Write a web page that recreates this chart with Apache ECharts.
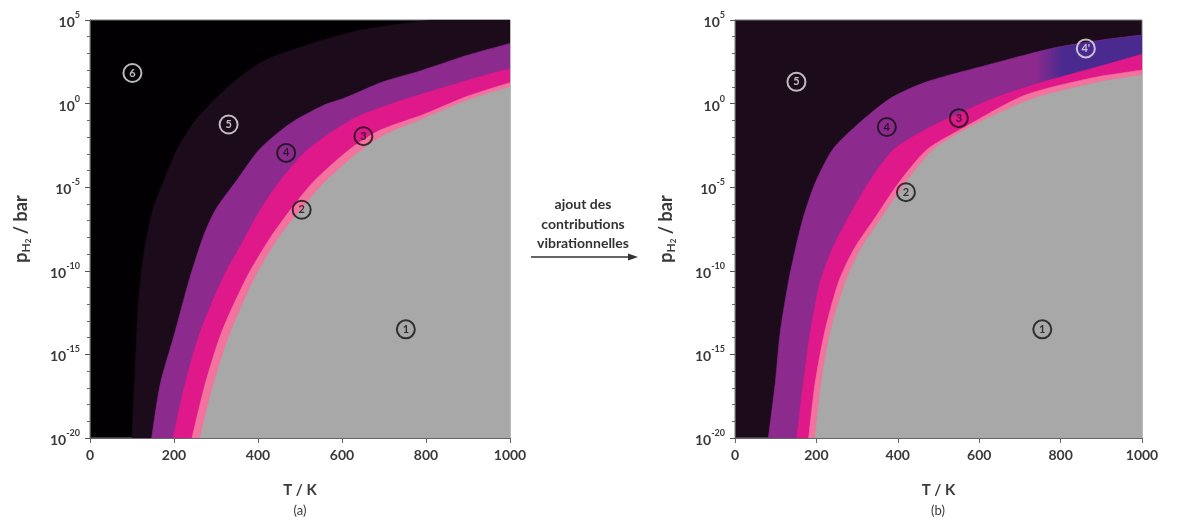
<!DOCTYPE html>
<html><head><meta charset="utf-8">
<script src="https://cdn.jsdelivr.net/npm/echarts@6/dist/echarts.min.js"></script>
<style>html,body{margin:0;padding:0;background:#fff}#c{width:1178px;height:521px}</style>
</head><body><div id="c"></div>
<script>
// ---------- data (T in K, value = log10(pH2 / bar)) ----------
const xTicks = [0, 200, 400, 600, 800, 1000];
const yExponents = [5, 0, -5, -10, -15, -20];

// (a) phase boundaries
const a_b65 = [[100,-20],[107,-16],[115,-12],[125,-9.5],[135,-8],[150,-6.3],[171,-4.9],[206,-2.8],[254,-0.9],[333,1.1],[413,2.55],[516,3.5],[635,4.35],[750,4.8],[820,5],[1000,5]];
const a_b54 = [[147,-20],[167,-16.8],[202,-13.7],[238,-10.4],[272,-7.8],[300,-6.3],[349,-4.6],[405,-2.7],[476,-1.2],[556,-0.1],[603,0.3],[698,1.3],[786,1.95],[900,2.9],[1000,3.6]];
const a_b43 = [[198,-20],[226,-16.8],[262,-13.7],[317,-10.4],[365,-8.2],[400,-6.6],[444,-4.9],[516,-2.8],[627,-0.9],[714,-0.05],[794,0.6],[900,1.4],[1000,2.1]];
const a_b32 = [[243,-20],[274,-16.8],[313,-13.7],[373,-10.4],[430,-8.0],[485,-6.1],[535,-4.6],[615,-2.8],[690,-1.6],[794,-0.65],[900,0.45],[1000,1.25]];
const a_b21 = [[262,-20],[294,-16.8],[333,-13.8],[393,-10.4],[450,-8.0],[504,-6.3],[555,-4.8],[635,-3.0],[700,-1.9],[794,-0.9],[900,0.2],[1000,1.0]];
const a_labels = [['6',101,1.83],['5',330,-1.25],['4',467,-2.95],['3',651,-1.95],['2',504,-6.35],['1',752,-13.5]];

// (b) phase boundaries
const b_b54 = [[82,-20],[99,-16.7],[111,-13.7],[131,-10.7],[148,-8.75],[168,-6.8],[197,-4.75],[240,-2.75],[299,-1.3],[381,0.3],[471,1.3],[619,2.3],[778,3.3],[900,3.8],[1000,4.1]];
const b_b43 = [[152,-20],[168,-16.7],[185,-13.7],[209,-10.7],[238,-8.75],[279,-6.8],[328,-4.75],[390,-2.75],[488,-1.3],[635,0.3],[758,1.3],[906,2.3],[1000,2.95]];
const b_b32 = [[181,-20],[197,-16.7],[220,-13.7],[254,-10.7],[291,-8.75],[345,-6.8],[402,-4.75],[472,-2.75],[565,-1.4],[712,0.5],[880,1.55],[1000,2.0]];
const b_b21 = [[197,-20],[212,-16.7],[234,-13.7],[271,-10.7],[308,-8.75],[361,-6.8],[419,-4.75],[488,-2.75],[586,-1.3],[734,0.3],[898,1.3],[1000,1.7]];
const b_labels = [['5',151,1.3],['4',373,-1.4],['3',550,-0.87],['2',420,-5.3],['1',755,-13.5],["4'",862,3.3]];
const b_phase4primeStartT = 740;   // phase 4' replaces 4 above this T
const b_phase4primeFullT = 805;

// ---------- styles ----------
const C6 = '#030003', C5 = '#1c0b1b', C4 = '#8c2a8e', C4p = '#4a2a8e', C3 = '#e0198b', C2 = '#f3739f', C1 = '#a8a8a8';
const FONT = 'Lato';
const TXT = '#3a3a3a';

function area(data, color, idx) {
  return {
    type: 'line', xAxisIndex: idx, yAxisIndex: idx, data: data,
    smooth: 0.25, symbol: 'none', silent: true,
    lineStyle: { width: 0.6, color: (typeof color === 'string') ? color : C4 },
    areaStyle: { color: color, opacity: 1, origin: 'start' },
    z: 2
  };
}
function markers(list, idx, lightSet) {
  return {
    type: 'scatter', xAxisIndex: idx, yAxisIndex: idx, silent: true, z: 10,
    symbol: 'circle', symbolSize: 18,
    data: list.map(d => ({
      value: [d[1], d[2], d[0]],
      itemStyle: { color: 'rgba(0,0,0,0)', borderColor: lightSet.includes(d[0]) ? '#e8e8e8' : '#111', borderWidth: 2 },
      label: { color: lightSet.includes(d[0]) ? '#e8e8e8' : '#111' }
    })),
    label: { show: true, position: 'inside', formatter: p => p.value[2], fontSize: 11, fontWeight: 'bold', fontFamily: FONT }
  };
}
function xAxis(idx) {
  return {
    type: 'value', gridIndex: idx, min: 0, max: 1000, interval: 200, z: 5,
    name: 'T / K', nameLocation: 'middle', nameGap: 45,
    nameTextStyle: { fontFamily: FONT, fontWeight: 'bold', fontSize: 15, color: TXT },
    axisLine: { show: true, onZero: false, lineStyle: { color: '#666', width: 1 } },
    axisTick: { show: true, length: 5, lineStyle: { color: '#666' } },
    axisLabel: { fontFamily: FONT, fontWeight: 'bold', fontSize: 14, color: TXT, margin: 10, formatter: v => String(v) },
    splitLine: { show: false }
  };
}
function yAxis(idx) {
  return {
    type: 'value', gridIndex: idx, min: -20, max: 5, interval: 5, z: 5,
    name: '{p|p}{h|H}{d|2}{p| / bar}', nameLocation: 'middle', nameGap: 58,
    nameTextStyle: {
      color: TXT,
      rich: {
        p: { fontFamily: FONT, fontWeight: 'bold', fontSize: 18, color: TXT, lineHeight: 22 },
        h: { fontFamily: FONT, fontWeight: 'bold', fontSize: 12, color: TXT, lineHeight: 20, verticalAlign: 'bottom' },
        d: { fontFamily: FONT, fontWeight: 'bold', fontSize: 8, color: TXT, lineHeight: 19, verticalAlign: 'bottom' }
      }
    },
    axisLine: { show: true, onZero: false, lineStyle: { color: '#555', width: 1 } },
    axisTick: { show: true, length: 5, lineStyle: { color: '#555' } },
    minorTick: { show: true, splitNumber: 5, length: 3, lineStyle: { color: '#666' } },
    axisLabel: {
      margin: 10,
      formatter: v => yExponents.includes(v) ? '{b|10}{s|' + v + '}' : '',
      rich: {
        b: { fontFamily: FONT, fontWeight: 'bold', fontSize: 14, color: TXT, lineHeight: 19, verticalAlign: 'bottom' },
        s: { fontFamily: FONT, fontWeight: 'bold', fontSize: 9, color: TXT, lineHeight: 19, verticalAlign: 'top' }
      }
    },
    splitLine: { show: false }
  };
}

// phase 4 -> 4' horizontal gradient for (b)
const bMinT = b_b54[0][0], bMaxT = b_b54[b_b54.length - 1][0];
const grad4 = new echarts.graphic.LinearGradient(0, 0, 1, 0, [
  { offset: 0, color: C4 },
  { offset: (b_phase4primeStartT - bMinT) / (bMaxT - bMinT), color: C4 },
  { offset: (b_phase4primeFullT - bMinT) / (bMaxT - bMinT), color: C4p },
  { offset: 1, color: C4p }
]);

const chart = echarts.init(document.getElementById('c'), null, { renderer: 'canvas' });
chart.setOption({
  animation: false,
  backgroundColor: '#ffffff',
  grid: [
    { left: 90, right: 668, top: 20, bottom: 83, show: true, backgroundColor: C6, borderColor: '#777', borderWidth: 1 },
    { left: 735, right: 36, top: 20, bottom: 83, show: true, backgroundColor: C5, borderColor: '#777', borderWidth: 1 }
  ],
  xAxis: [xAxis(0), xAxis(1)],
  yAxis: [yAxis(0), yAxis(1)],
  series: [
    area(a_b65, C5, 0), area(a_b54, C4, 0), area(a_b43, C3, 0), area(a_b32, C2, 0), area(a_b21, C1, 0),
    markers(a_labels, 0, ['6', '5']),
    area(b_b54, grad4, 1), area(b_b43, C3, 1), area(b_b32, C2, 1), area(b_b21, C1, 1),
    markers(b_labels, 1, ['5', "4'"])
  ],
  graphic: [
    { type: 'text', x: 300, y: 511, style: { text: '(a)', textAlign: 'center', textVerticalAlign: 'middle', font: '13px ' + FONT, fill: TXT } },
    { type: 'text', x: 938, y: 511, style: { text: '(b)', textAlign: 'center', textVerticalAlign: 'middle', font: '13px ' + FONT, fill: TXT } },
    { type: 'text', x: 583, y: 204, style: { text: 'ajout des', textAlign: 'center', textVerticalAlign: 'middle', font: 'bold 14px ' + FONT, fill: '#333' } },
    { type: 'text', x: 583, y: 224, style: { text: 'contributions', textAlign: 'center', textVerticalAlign: 'middle', font: 'bold 14px ' + FONT, fill: '#333' } },
    { type: 'text', x: 583, y: 243, style: { text: 'vibrationnelles', textAlign: 'center', textVerticalAlign: 'middle', font: 'bold 14px ' + FONT, fill: '#333' } },
    { type: 'line', shape: { x1: 531, y1: 257, x2: 630, y2: 257 }, style: { stroke: '#333', lineWidth: 1.5 } },
    { type: 'polygon', shape: { points: [[638, 257], [628, 253.5], [628, 260.5]] }, style: { fill: '#333' } }
  ]
});
</script></body></html>
